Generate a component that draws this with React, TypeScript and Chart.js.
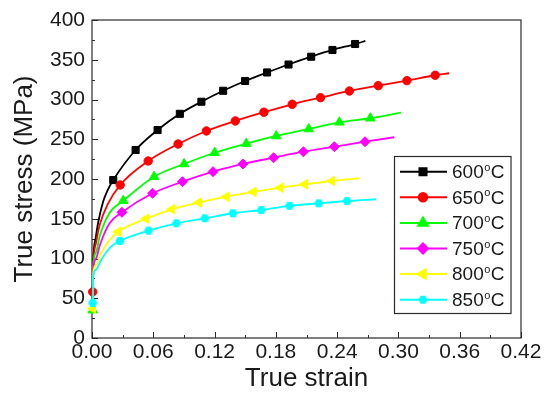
import React, { useEffect, useRef } from 'react';
import { Chart, registerables } from 'chart.js';
import { drawPoint } from 'chart.js/helpers';

Chart.register(...registerables);

// ---- axis ticks ----
const strainTicks = [0, 0.06, 0.12, 0.18, 0.24, 0.3, 0.36, 0.42];
const stressTicks = [0, 50, 100, 150, 200, 250, 300, 350, 400];

// ---- series names ----
const temperatures = ['600', '650', '700', '750', '800', '850'];

// ---- 600 °C ----
const strain600Curve = [0.0007, 0.0012, 0.0035, 0.006, 0.011, 0.015, 0.2676];
const stress600Curve = [55, 95, 125, 145, 172, 185, 373.6];
const strain600Marked = [0.0208, 0.0427, 0.0642, 0.086, 0.1071, 0.1284, 0.1499, 0.1714, 0.1924, 0.2146, 0.2354, 0.2576];
const stress600Marked = [198.7, 236.5, 261.6, 282, 297.2, 311, 323.3, 334, 344, 353.8, 362.3, 369.8];

// ---- 650 °C ----
const strain650Curve = [0.0013, 0.004, 0.0075, 0.0153, 0.3497];
const stress650Curve = [92, 120, 142, 168, 333];
const strain650Marked = [0.0007, 0.0276, 0.055, 0.0843, 0.112, 0.1403, 0.1683, 0.196, 0.2237, 0.252, 0.2803, 0.3083, 0.336];
const stress650Marked = [58, 192.5, 222.6, 244, 260.4, 273, 284, 294, 302.3, 310.7, 317.4, 323.7, 330.5];

// ---- 700 °C ----
const strain700Curve = [0.0012, 0.004, 0.0075, 0.017, 0.3025];
const stress700Curve = [88, 108, 128, 157, 283.4];
const strain700Marked = [0.0007, 0.0306, 0.0608, 0.0902, 0.1201, 0.1511, 0.1804, 0.2122, 0.2422, 0.2725];
const stress700Marked = [35, 172.7, 202.9, 218.9, 233, 244.5, 254.1, 262.9, 271.3, 276.4];

// ---- 750 °C ----
const strain750Curve = [0.0007, 0.0012, 0.004, 0.0075, 0.017, 0.2959];
const stress750Curve = [45, 85, 100, 116, 144, 252.5];
const strain750Marked = [0.0293, 0.0593, 0.0886, 0.1185, 0.1478, 0.1778, 0.207, 0.2373, 0.2673];
const stress750Marked = [158.1, 182, 196.6, 209.2, 218.9, 226.8, 234.3, 240.6, 246.9];

// ---- 800 °C ----
const strain800Curve = [0.0012, 0.004, 0.009, 0.017, 0.2618];
const stress800Curve = [81, 92, 107, 123, 200.9];
const strain800Marked = [0.0007, 0.0257, 0.053, 0.0784, 0.1047, 0.1316, 0.158, 0.1844, 0.2083, 0.2349];
const stress800Marked = [37, 133.7, 150, 161.9, 170.4, 177.7, 183.7, 189.1, 193.3, 197.5];

// ---- 850 °C ----
const strain850Curve = [0.0012, 0.004, 0.009, 0.0186, 0.278];
const stress850Curve = [77, 86, 98, 114.8, 174.5];
const strain850Marked = [0.0007, 0.0273, 0.0554, 0.0827, 0.1104, 0.138, 0.1657, 0.1934, 0.222, 0.2497];
const stress850Marked = [44, 122, 135, 144.3, 150.6, 156.9, 161, 166.2, 169.4, 172.3];

const curveStrains = [strain600Curve, strain650Curve, strain700Curve, strain750Curve, strain800Curve, strain850Curve];
const curveStresses = [stress600Curve, stress650Curve, stress700Curve, stress750Curve, stress800Curve, stress850Curve];
const markedStrains = [strain600Marked, strain650Marked, strain700Marked, strain750Marked, strain800Marked, strain850Marked];
const markedStresses = [stress600Marked, stress650Marked, stress700Marked, stress750Marked, stress800Marked, stress850Marked];

const FONT = 'Arial, "Liberation Sans", sans-serif';
const colors = ['#000000', '#ff0000', '#00ff00', '#ff00ff', '#ffff00', '#00ffff'];
const radii = [5, 4.2, 5.5, 5, 5.5, 4.6];

function makeHexagon(color: string, r: number) {
  const size = Math.ceil(r * 2 + 2);
  const c = document.createElement('canvas');
  c.width = size;
  c.height = size;
  const ctx = c.getContext('2d')!;
  ctx.fillStyle = color;
  ctx.beginPath();
  for (let i = 0; i < 6; i++) {
    const a = (Math.PI / 3) * i;
    const px = size / 2 + r * Math.cos(a);
    const py = size / 2 + r * Math.sin(a);
    if (i === 0) ctx.moveTo(px, py);
    else ctx.lineTo(px, py);
  }
  ctx.closePath();
  ctx.fill();
  return c;
}

function buildData(i: number) {
  const pts: { x: number; y: number; m: boolean }[] = [];
  curveStrains[i].forEach((x, k) => pts.push({ x, y: curveStresses[i][k], m: false }));
  markedStrains[i].forEach((x, k) => pts.push({ x, y: markedStresses[i][k], m: true }));
  pts.sort((a, b) => a.x - b.x);
  return pts;
}

export default function App() {
  const ref = useRef<HTMLCanvasElement>(null);
  useEffect(() => {
    const hex = makeHexagon(colors[5], radii[5]);
    const styles: any[] = ['rect', 'circle', 'triangle', 'rectRot', 'triangle', hex];
    const rotations = [0, 0, 0, 0, -90, 0];

    const frameTicks = {
      id: 'frameTicks',
      beforeDatasetsDraw(chart: any) {
        const { ctx, chartArea } = chart;
        const { left, right, top, bottom } = chartArea;
        const xs = chart.scales.x;
        const ys = chart.scales.y;
        ctx.save();
        ctx.strokeStyle = '#2a2a2a';
        ctx.lineWidth = 1.2;
        ctx.strokeRect(left, top, right - left, bottom - top);
        ctx.lineWidth = 1;
        ctx.beginPath();
        strainTicks.forEach((v, k) => {
          const px = Math.round(xs.getPixelForValue(v)) + 0.5;
          ctx.moveTo(px, bottom);
          ctx.lineTo(px, bottom - 6);
          if (k < strainTicks.length - 1) {
            const mid = (v + strainTicks[k + 1]) / 2;
            const pm = Math.round(xs.getPixelForValue(mid)) + 0.5;
            ctx.moveTo(pm, bottom);
            ctx.lineTo(pm, bottom - 3);
          }
        });
        stressTicks.forEach((v, k) => {
          const py = Math.round(ys.getPixelForValue(v)) + 0.5;
          ctx.moveTo(left, py);
          ctx.lineTo(left + 6, py);
          if (k < stressTicks.length - 1) {
            const mid = (v + stressTicks[k + 1]) / 2;
            const pm = Math.round(ys.getPixelForValue(mid)) + 0.5;
            ctx.moveTo(left, pm);
            ctx.lineTo(left + 3, pm);
          }
        });
        ctx.stroke();
        ctx.restore();
      },
    };

    const legendBox = {
      id: 'legendBox',
      afterDraw(chart: any) {
        const { ctx } = chart;
        const bx = 394.5, by = 156.5, bw = 116.5, bh = 157;
        ctx.save();
        ctx.fillStyle = '#ffffff';
        ctx.fillRect(bx, by, bw, bh);
        ctx.strokeStyle = '#2a2a2a';
        ctx.lineWidth = 1.2;
        ctx.strokeRect(bx, by, bw, bh);
        temperatures.forEach((t, i) => {
          const cy = 171.7 + i * 25.6;
          ctx.strokeStyle = colors[i];
          ctx.lineWidth = 2;
          ctx.beginPath();
          ctx.moveTo(400, cy);
          ctx.lineTo(447, cy);
          ctx.stroke();
          ctx.fillStyle = colors[i];
          drawPoint(ctx, { pointStyle: styles[i], radius: radii[i], rotation: rotations[i], borderWidth: 1 }, 423, cy);
          ctx.fillStyle = '#1a1a1a';
          ctx.textBaseline = 'middle';
          ctx.textAlign = 'left';
          ctx.font = `19px ${FONT}`;
          ctx.fillText(t, 452, cy + 1);
          const w = ctx.measureText(t).width;
          ctx.font = `11px ${FONT}`;
          ctx.fillText('o', 452 + w + 0.5, cy - 4);
          const w2 = ctx.measureText('o').width;
          ctx.font = `19px ${FONT}`;
          ctx.fillText('C', 452 + w + w2 + 1, cy + 1);
        });
        ctx.restore();
      },
    };

    const chart = new Chart(ref.current!, {
      type: 'line',
      data: {
        datasets: temperatures.map((t, i) => ({
          label: t + '°C',
          data: buildData(i),
          borderColor: colors[i],
          backgroundColor: colors[i],
          borderWidth: 1.8,
          pointStyle: styles[i],
          rotation: rotations[i],
          pointRadius: (c: any) => (c.raw && c.raw.m ? radii[i] : 0),
          pointBackgroundColor: colors[i],
          pointBorderColor: colors[i],
          pointBorderWidth: 1,
          cubicInterpolationMode: 'monotone' as const,
          fill: false,
          clip: false,
          order: 5 - i,
        })),
      },
      options: {
        animation: false,
        responsive: false,
        parsing: false as any,
        normalized: true,
        layout: { padding: { top: 20, right: 23, left: 0, bottom: 0 } },
        plugins: { legend: { display: false }, tooltip: { enabled: false } },
        scales: {
          x: {
            type: 'linear',
            min: 0,
            max: 0.42,
            afterBuildTicks: (s: any) => {
              s.ticks = strainTicks.map((v) => ({ value: v }));
            },
            afterFit: (s: any) => {
              s.height = 59;
              s.paddingLeft = 0;
              s.paddingRight = 0;
            },
            ticks: {
              autoSkip: false,
              maxRotation: 0,
              padding: 2,
              color: '#1a1a1a',
              font: { family: FONT, size: 21 },
              callback: (v: any) => Number(v).toFixed(2),
            },
            grid: { display: true, drawOnChartArea: false, drawTicks: false },
            border: { display: false },
            title: {
              display: true,
              text: 'True strain',
              color: '#1a1a1a',
              font: { family: FONT, size: 26 },
              padding: { top: 0, bottom: 3 },
            },
          },
          y: {
            type: 'linear',
            min: 0,
            max: 400,
            afterBuildTicks: (s: any) => {
              s.ticks = stressTicks.map((v) => ({ value: v }));
            },
            afterFit: (s: any) => {
              s.width = 92;
              s.paddingTop = 0;
              s.paddingBottom = 0;
            },
            ticks: {
              autoSkip: false,
              padding: 7,
              color: '#1a1a1a',
              font: { family: FONT, size: 21 },
            },
            grid: { display: true, drawOnChartArea: false, drawTicks: false },
            border: { display: false },
            title: {
              display: true,
              text: 'True stress (MPa)',
              color: '#1a1a1a',
              font: { family: FONT, size: 26 },
              padding: { top: 9, bottom: 0 },
            },
          },
        },
      },
      plugins: [frameTicks, legendBox],
    } as any);
    return () => chart.destroy();
  }, []);

  return (
    <div style={{ position: 'fixed', left: 0, top: 0, width: 544, height: 397, background: '#fff' }}>
      <canvas ref={ref} width={544} height={397} style={{ width: 544, height: 397, display: 'block' }} />
    </div>
  );
}
